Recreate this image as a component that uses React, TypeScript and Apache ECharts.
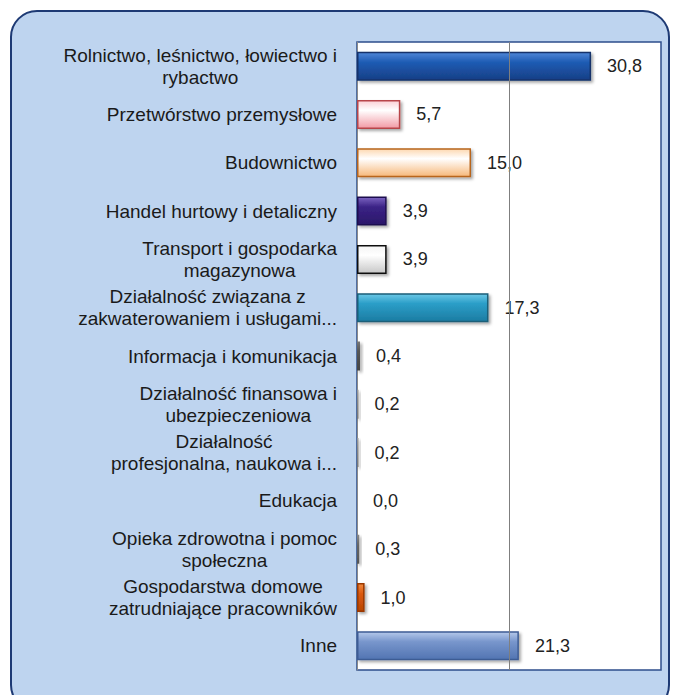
import React, { useEffect, useRef } from "react";
import * as echarts from "echarts";

const categories: string[] = [
  "Rolnictwo, leśnictwo, łowiectwo i\nrybactwo",
  "Przetwórstwo przemysłowe",
  "Budownictwo",
  "Handel hurtowy i detaliczny",
  "Transport i gospodarka\nmagazynowa",
  "Działalność związana z\nzakwaterowaniem i usługami...",
  "Informacja i komunikacja",
  "Działalność finansowa i\nubezpieczeniowa",
  "Działalność\nprofesjonalna, naukowa i...",
  "Edukacja",
  "Opieka zdrowotna i pomoc\nspołeczna",
  "Gospodarstwa domowe\nzatrudniające pracowników",
  "Inne",
];

const values: number[] = [30.8, 5.7, 15.0, 3.9, 3.9, 17.3, 0.4, 0.2, 0.2, 0.0, 0.3, 1.0, 21.3];

// [top, middle, bottom, border]
const barColors: string[][] = [
  ["#4F88D8", "#1F5CB4", "#173F86", "#12336B"],
  ["#FBD0D5", "#FFFFFF", "#F29AA5", "#B8454A"],
  ["#FDD8B0", "#FFFFFF", "#F7B87A", "#B8651C"],
  ["#7A62C0", "#3B2386", "#2A1668", "#1E0E50"],
  ["#F4F4F4", "#FFFFFF", "#C8C8C8", "#111111"],
  ["#6CC8E6", "#2B9EC8", "#1C7CA2", "#1A5E78"],
  ["#777777", "#555555", "#444444", "#444444"],
  ["#999999", "#888888", "#777777", "#777777"],
  ["#999999", "#888888", "#777777", "#777777"],
  ["#999999", "#888888", "#777777", "#777777"],
  ["#888888", "#666666", "#555555", "#555555"],
  ["#F08A40", "#DC5A10", "#B84400", "#9A3800"],
  ["#B4C8EA", "#7896CC", "#5274B2", "#3E5C94"],
];

const axisMax = 40;
const axisInterval = 20;
const refLine = 20;

function App() {
  const ref = useRef<HTMLDivElement>(null);
  useEffect(() => {
    if (!ref.current) return;
    const chart = echarts.init(ref.current, null, { renderer: "svg" });
    const font = "'Liberation Sans', Arial, sans-serif";
    chart.setOption({
      animation: false,
      graphic: [
        {
          type: "rect",
          z: -10,
          silent: true,
          shape: { x: 11, y: 11, width: 658, height: 700, r: 26 },
          style: { fill: "#BED4EF", stroke: "#1E3A74", lineWidth: 2 },
        },
      ],
      grid: {
        left: 357,
        right: 13,
        top: 42,
        bottom: 25,
        show: true,
        backgroundColor: "#FFFFFF",
        borderColor: "#2E4E8C",
        borderWidth: 1.5,
      },
      xAxis: {
        type: "value",
        min: 0,
        max: axisMax,
        interval: axisInterval,
        axisLabel: { show: false },
        axisTick: { show: false },
        axisLine: { show: false },
        splitLine: { show: false },
      },
      yAxis: {
        type: "category",
        inverse: true,
        data: categories,
        axisTick: { show: false },
        axisLine: { show: true, lineStyle: { color: "#8A8A8A", width: 1 } },
        axisLabel: {
          margin: 20,
          align: "right",
          formatter: (v: string) =>
            v
              .split("\n")
              .map((l) => `{c|${l}}`)
              .join("\n"),
          rich: {
            c: {
              align: "center",
              fontSize: 19,
              lineHeight: 22,
              fontFamily: font,
              color: "#1A1A1A",
            },
          },
        },
      },
      series: [
        {
          type: "bar",
          barWidth: 29,
          data: values.map((v, i) => {
            const c = barColors[i];
            return {
              value: v,
              itemStyle: {
                color: new echarts.graphic.LinearGradient(0, 0, 0, 1, [
                  { offset: 0, color: c[0] },
                  { offset: 0.35, color: c[1] },
                  { offset: 1, color: c[2] },
                ]),
                borderColor: c[3],
                borderWidth: v >= 1 ? 1.5 : 0,
                shadowColor: "rgba(0,0,0,0.35)",
                shadowBlur: 3,
                shadowOffsetX: 2,
                shadowOffsetY: 2,
              },
            };
          }),
          label: {
            show: true,
            position: "right",
            distance: 16,
            fontSize: 18,
            fontFamily: font,
            color: "#222222",
            formatter: (p: any) => Number(p.value).toFixed(1).replace(".", ","),
          },
          markLine: {
            silent: true,
            symbol: "none",
            label: { show: false },
            lineStyle: { color: "#7F7F7F", width: 1, type: "solid" },
            data: [{ xAxis: refLine }],
          },
        },
      ],
    });
    return () => chart.dispose();
  }, []);
  return (
    <div
      ref={ref}
      style={{ position: "fixed", left: 0, top: 0, width: 674, height: 695, background: "#FFFFFF" }}
    />
  );
}

export default App;
